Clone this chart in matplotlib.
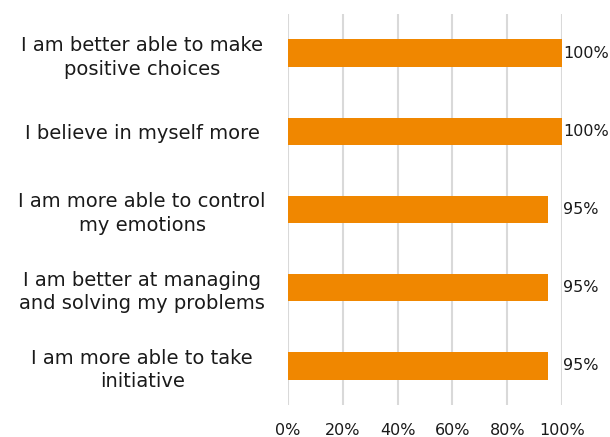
import matplotlib.pyplot as plt

statements = [
    "I am better able to make\npositive choices",
    "I believe in myself more",
    "I am more able to control\nmy emotions",
    "I am better at managing\nand solving my problems",
    "I am more able to take\ninitiative",
]
agree = [100, 100, 95, 95, 95]
xticks = [0, 20, 40, 60, 80, 100]

fig = plt.figure(figsize=(6.10, 4.37), dpi=100)
ax = fig.add_axes([288 / 610, 32 / 437, 274 / 610, 391 / 437])

pos = list(range(len(statements)))
ax.barh(pos, agree, height=0.35, color='#F08700', zorder=3)

# value labels sit just past the bar end, kept inside the figure
for y, v in zip(pos, agree):
    ax.text(min(v + 7.5, 100.3), y, f"{v}%", va='center', ha='left',
            fontsize=11.5, color='#1a1a1a', zorder=4)

ax.set_xlim(0, 100)
ax.set_ylim(len(statements) - 0.5, -0.5)
ax.set_xticks(xticks)
ax.set_xticklabels([f"{t}%" for t in xticks], fontsize=11.5, color='#1a1a1a')
ax.set_yticks(pos)
ax.set_yticklabels(statements, fontsize=14, color='#1a1a1a', ha='center',
                   multialignment='center', linespacing=1.3)
ax.tick_params(axis='y', length=0, pad=105)
ax.tick_params(axis='x', length=0, pad=13)
ax.grid(axis='x', color='#d9d9d9', linewidth=1.5, zorder=0)
for s in ax.spines.values():
    s.set_visible(False)

fig.savefig('out.png', dpi=100)
